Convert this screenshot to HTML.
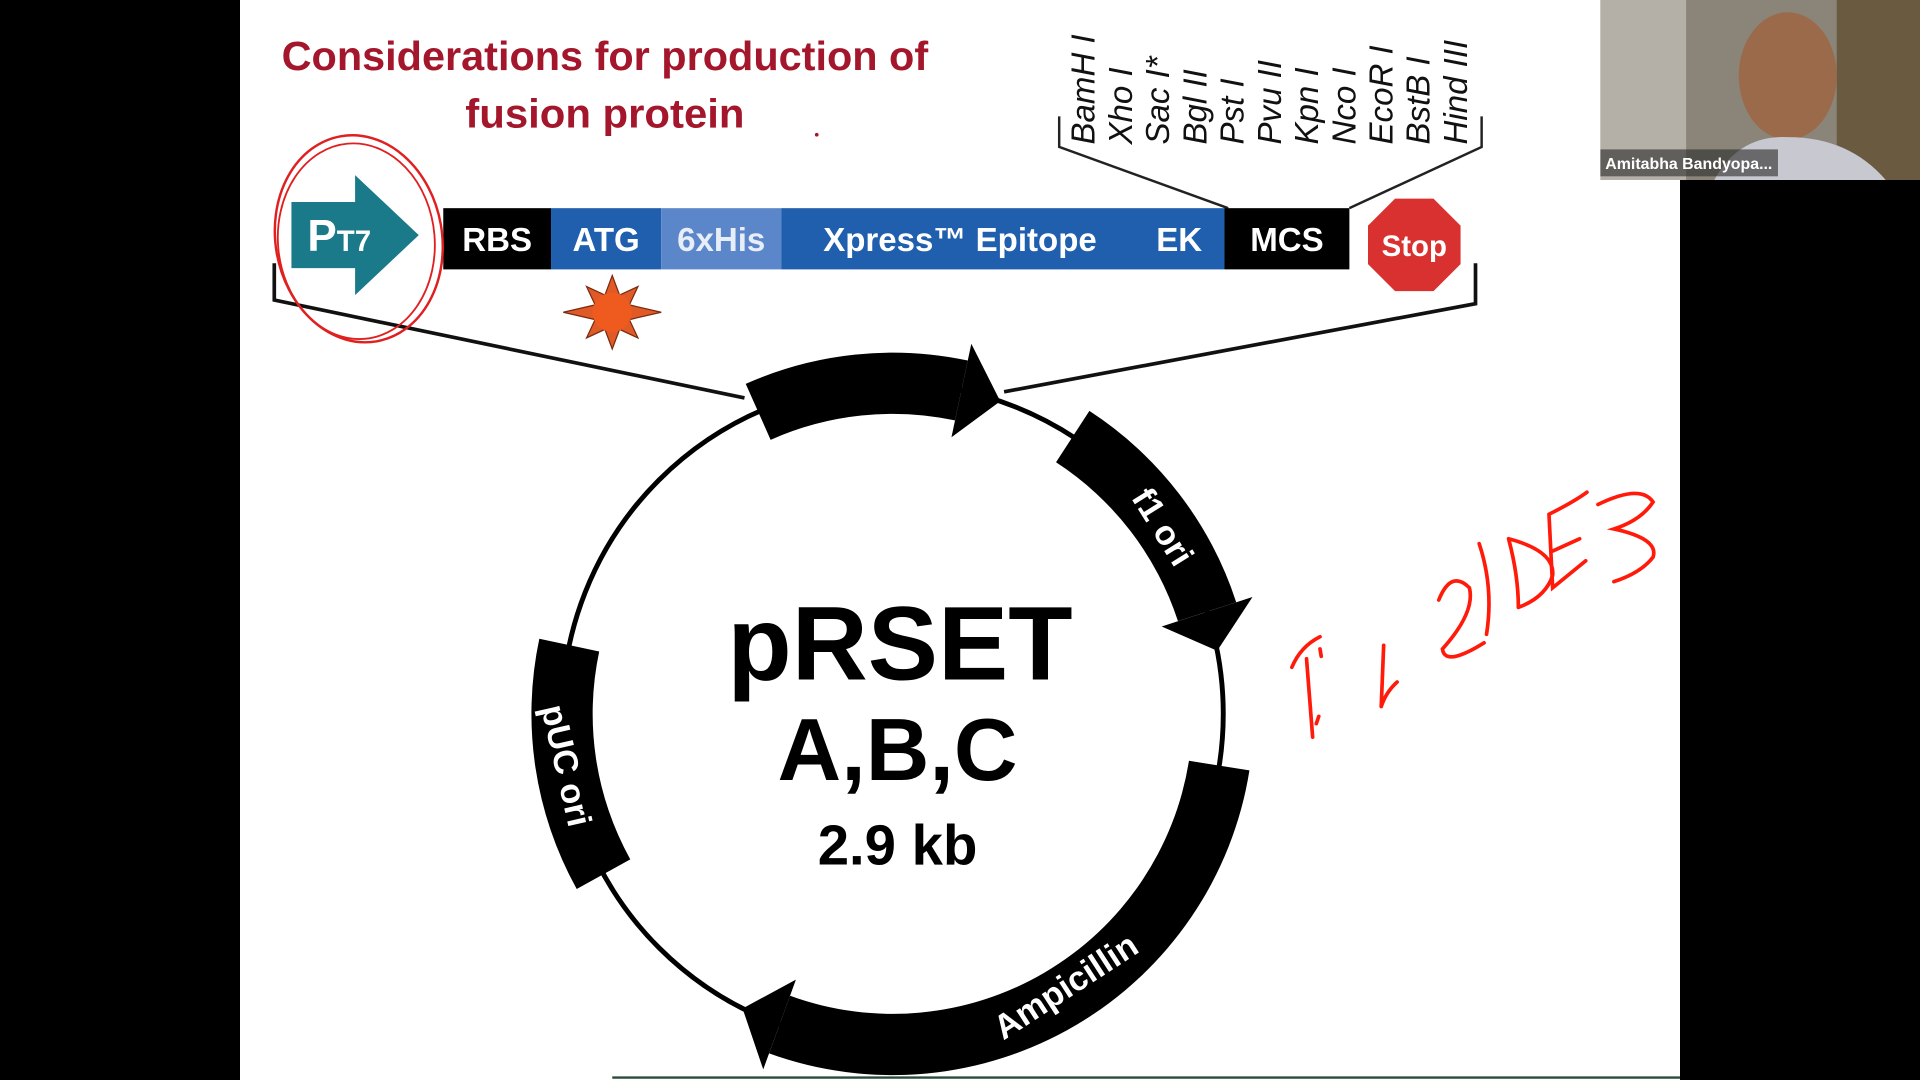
<!DOCTYPE html>
<html><head><meta charset="utf-8"><style>
html,body{margin:0;padding:0;background:#000;}
svg{display:block}
</style></head><body>
<svg id="s" width="1920" height="1080" viewBox="0 0 1568 882" xmlns="http://www.w3.org/2000/svg" font-family="Liberation Sans, Arial, sans-serif">
<rect x="0" y="0" width="1568" height="882" fill="#000"/>
<rect x="196" y="0" width="1176" height="882" fill="#fff"/>
<line x1="500" y1="880" x2="1372" y2="880" stroke="#2a4a3a" stroke-width="2"/>
<!-- title -->
<text x="494" y="57" text-anchor="middle" font-size="33" font-weight="bold" fill="#a3162b" textLength="528" lengthAdjust="spacingAndGlyphs">Considerations for production of</text>
<text x="494" y="104" text-anchor="middle" font-size="33" font-weight="bold" fill="#a3162b" textLength="228" lengthAdjust="spacingAndGlyphs">fusion protein</text>
<circle cx="667" cy="110" r="1.5" fill="#a3162b"/>
<!-- enzyme labels -->
<g font-size="27" font-style="italic" fill="#111" id="enz"></g>
<polyline points="865,95 865,120 1003,170" fill="none" stroke="#222" stroke-width="2"/>
<polyline points="1210,95 1210,120 1102,170" fill="none" stroke="#222" stroke-width="2"/>
<!-- bar -->
<rect x="362" y="170" width="88" height="50" fill="#000"/>
<rect x="450" y="170" width="90" height="50" fill="#1f5fad"/>
<rect x="540" y="170" width="98" height="50" fill="#5b86c9"/>
<rect x="638" y="170" width="362" height="50" fill="#1f5fad"/>
<rect x="1000" y="170" width="102" height="50" fill="#000"/>
<g fill="#fff" font-weight="bold" font-size="27">
<text x="406" y="205" text-anchor="middle">RBS</text>
<text x="495" y="205" text-anchor="middle">ATG</text>
<text x="589" y="205" text-anchor="middle" fill="#e8eef8">6xHis</text>
<text x="784" y="205" text-anchor="middle">Xpress™ Epitope</text>
<text x="963" y="205" text-anchor="middle">EK</text>
<text x="1051" y="205" text-anchor="middle">MCS</text>
</g>
<polygon points="238,165 290,165 290,143 342,192 290,241 290,219 238,219" fill="#1a7a8a"/>
<text x="251" y="205" fill="#fff" font-weight="bold" font-size="36">P<tspan font-size="24">T7</tspan></text>
<polygon id="stop" fill="#d9312f" stroke="#fff" stroke-width="2"/>
<text x="1155" y="209" text-anchor="middle" fill="#fff" font-weight="bold" font-size="24">Stop</text>
<!-- brackets -->
<polyline points="224,215 224,245 608,325" fill="none" stroke="#111" stroke-width="3"/>
<polyline points="1205,215 1205,248 820,320" fill="none" stroke="#111" stroke-width="3"/>
<!-- sun -->
<g transform="translate(500,255)">
<polygon points="0,-30 6,-14 21,-21 14,-6 40,0 14,6 21,21 6,14 0,30 -6,14 -21,21 -14,6 -40,0 -14,-6 -21,-21 -6,-14" fill="#e05a28" stroke="#7a2a10" stroke-width="1"/>
<circle r="16" fill="#ef5a1f"/>
</g>
<!-- red circle -->
<ellipse cx="293" cy="195" rx="68" ry="85" fill="none" stroke="#e02020" stroke-width="2" transform="rotate(-10 293 195)"/>
<ellipse cx="291" cy="197" rx="64" ry="80" fill="none" stroke="#e02020" stroke-width="1.5" transform="rotate(-5 291 197)"/>
<!-- plasmid -->
<circle cx="729" cy="583" r="270" fill="none" stroke="#000" stroke-width="4"/>
<g id="arcs"></g>
<g font-weight="bold" fill="#000" text-anchor="middle">
<text x="735" y="555" font-size="86">pRSET</text>
<text x="733" y="637" font-size="72">A,B,C</text>
<text x="733" y="706" font-size="46">2.9 kb</text>
</g>
<g font-weight="bold" fill="#fff" font-size="28" text-anchor="middle">
<text transform="translate(950,430) rotate(58)" x="0" y="10">f1 ori</text>
<text transform="translate(870,805) rotate(-33)" x="0" y="10">Ampicillin</text>
<text transform="translate(463,625) rotate(77)" x="0" y="10">pUC ori</text>
</g>
<!-- handwriting -->
<g fill="none" stroke="#ff1a0a" stroke-width="3" stroke-linecap="round">
<path d="M1055,545 Q1062,528 1078,520"/><path d="M1067,538 L1072,602"/><path d="M1078,530 l1,6"/><path d="M1077,585 l-2,6"/>
<path d="M1130,527 L1128,577 M1128,577 Q1132,565 1141,557"/>
<path d="M1175,490 Q1185,465 1200,480 Q1205,500 1178,530 Q1180,545 1212,525"/>
<path d="M1208,444 Q1220,480 1214,518"/>
<path d="M1232,440 Q1240,470 1240,496 M1232,440 Q1270,450 1268,470 Q1262,488 1240,496"/>
<path d="M1265,420 L1268,480 L1295,458 M1265,420 Q1285,410 1296,402 M1268,450 L1290,440"/>
<path d="M1305,412 Q1340,395 1350,410 Q1340,425 1318,432 Q1355,440 1350,455 Q1340,468 1318,475"/>
</g>
<!-- webcam -->
<rect x="1307" y="0" width="261" height="147" fill="#8a8578"/>
<rect x="1307" y="0" width="70" height="147" fill="#b4b0a8"/>
<rect x="1500" y="0" width="68" height="147" fill="#6a5a40"/>
<ellipse cx="1460" cy="62" rx="40" ry="52" fill="#9a6a4a"/>
<path d="M1400,147 Q1420,110 1460,112 Q1510,112 1540,147 Z" fill="#c8c8d0"/>
<rect x="1307" y="122" width="145" height="22" fill="#2a2a2a" opacity="0.6"/>
<text x="1311" y="138" fill="#fff" font-size="13" font-weight="bold">Amitabha Bandyopa...</text>
<script>
(function(){
var NS="http://www.w3.org/2000/svg";
var enz=["BamH I","Xho I","Sac I*","Bgl II","Pst I","Pvu II","Kpn I","Nco I","EcoR I","BstB I","Hind III"];
var g=document.getElementById("enz");
enz.forEach(function(t,i){var x=894+i*30.4;var e=document.createElementNS(NS,"text");
e.setAttribute("transform","translate("+x+",118) rotate(-90)");e.textContent=t;g.appendChild(e);});
var p=[];for(var k=0;k<8;k++){var a=(22.5+45*k)*Math.PI/180;p.push((1155+42*Math.cos(a)).toFixed(1)+","+(200+42*Math.sin(a)).toFixed(1));}
document.getElementById("stop").setAttribute("points",p.join(" "));
var cx=729,cy=583,r=270,w=50,ag=document.getElementById("arcs");
function pt(rad,deg){var a=deg*Math.PI/180;return [cx+rad*Math.cos(a),cy+rad*Math.sin(a)];}
function arc(a0,a1,head){
 var e=head?a1-7:a1;var ro=r+w/2,ri=r-w/2;
 var P=pt(ro,a0),Q=pt(ro,e),R=pt(ri,e),S=pt(ri,a0);
 var lg=(e-a0)>180?1:0;
 var d="M"+P+" A"+ro+","+ro+" 0 "+lg+" 1 "+Q+" L"+R+" A"+ri+","+ri+" 0 "+lg+" 0 "+S+" Z";
 var el=document.createElementNS(NS,"path");el.setAttribute("d",d);el.setAttribute("fill","#000");ag.appendChild(el);
 if(head){var A=pt(r+w/2+14,e),B=pt(r-w/2-14,e),T=pt(r,a1);
 var h=document.createElementNS(NS,"polygon");h.setAttribute("points",A+" "+T+" "+B);h.setAttribute("fill","#000");ag.appendChild(h);}
}
arc(-114,-71,true);arc(-57,-11,true);arc(9,117,true);arc(151,192,false);
})();
</script>
</svg>
</body></html>
